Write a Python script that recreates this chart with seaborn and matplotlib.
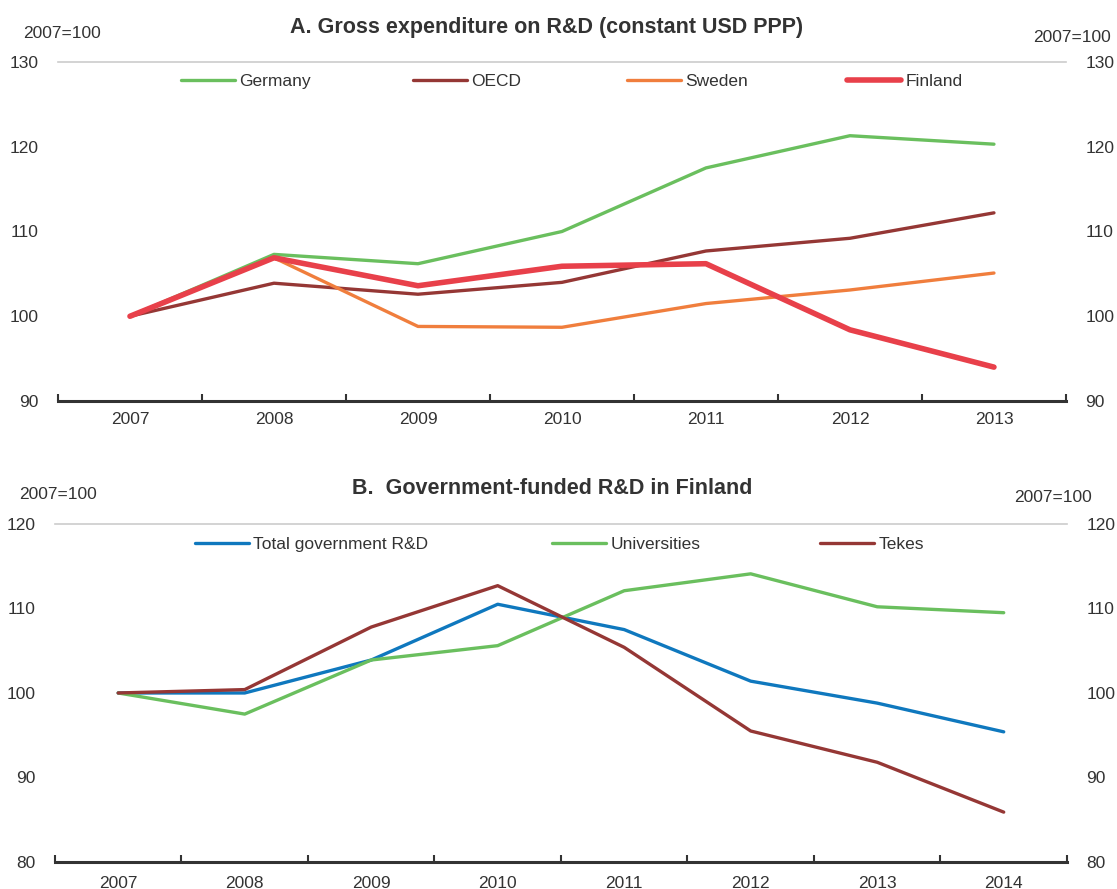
import numpy as np
import pandas as pd
import seaborn as sns
import matplotlib
matplotlib.use("Agg")
import matplotlib.pyplot as plt
from matplotlib import font_manager

# Panel A: gross expenditure on R&D, index 2007=100
years_a = ["2007", "2008", "2009", "2010", "2011", "2012", "2013"]
germany = [100.0, 107.3, 106.2, 110.0, 117.5, 121.3, 120.3]
oecd = [100.0, 103.9, 102.6, 104.0, 107.7, 109.2, 112.2]
sweden = [100.0, 106.9, 98.8, 98.7, 101.5, 103.1, 105.1]
finland = [100.0, 106.9, 103.6, 105.9, 106.2, 98.4, 94.0]

# Panel B: government-funded R&D in Finland, index 2007=100
years_b = ["2007", "2008", "2009", "2010", "2011", "2012", "2013", "2014"]
total_gov = [100.0, 100.0, 103.9, 110.5, 107.5, 101.4, 98.8, 95.4]
universities = [100.0, 97.5, 103.9, 105.6, 112.1, 114.1, 110.2, 109.5]
tekes = [100.0, 100.4, 107.8, 112.7, 105.4, 95.5, 91.8, 85.9]

sns.set_theme(style="white")
installed = {f.name for f in font_manager.fontManager.ttflist}
family = [f for f in ["Liberation Sans Narrow", "Liberation Sans", "DejaVu Sans"] if f in installed]
plt.rcParams["font.family"] = family
TXT = "#333333"
FS = 12.5

W, H = 1117, 889
fig = plt.figure(figsize=(W / 100, H / 100), dpi=100)
ax_a = fig.add_axes([0.0519, 0.5489, 0.9024, 0.3814])
ax_b = fig.add_axes([0.0492, 0.0304, 0.9060, 0.3802])


def draw_panel(ax, years, series, ylim, yticks, xpad):
    x = np.arange(len(years))
    lines = []
    for name, vals, color, lw in series:
        df = pd.DataFrame({"x": x, "v": vals})
        sns.lineplot(data=df, x="x", y="v", ax=ax, color=color, linewidth=lw,
                     solid_capstyle="round", legend=False)
        lines.append((ax.get_lines()[-1], name))
    ax.set_xlim(-0.5, len(years) - 0.5)
    ax.set_ylim(*ylim)
    ax.set_xticks(x)
    ax.set_xticklabels(years, fontsize=FS, color=TXT)
    ax.set_xticks(np.arange(-0.5, len(years)), minor=True)
    ax.tick_params(axis="x", which="major", length=0, pad=xpad)
    ax.tick_params(axis="x", which="minor", direction="in", length=5,
                   width=1.5, color="#333333", bottom=True)
    ax.set_yticks(yticks)
    ax.set_yticklabels([str(v) for v in yticks], fontsize=FS, color=TXT)
    ax.tick_params(axis="y", length=0, pad=14, labelright=True, right=False)
    ax.set_xlabel("")
    ax.set_ylabel("")
    for s in ["left", "right"]:
        ax.spines[s].set_visible(False)
    ax.spines["top"].set_color("#cccccc")
    ax.spines["top"].set_linewidth(1.2)
    ax.spines["bottom"].set_color("#333333")
    ax.spines["bottom"].set_linewidth(2.2)
    ax.grid(False)
    return lines


def place_legend(ax, entries, xs_px, y_px):
    # one legend per entry so each key sits at its own horizontal position
    for (line, name), xp in zip(entries, xs_px):
        leg = ax.legend([line], [name], loc="center left",
                        bbox_to_anchor=(xp / W, 1 - y_px / H),
                        bbox_transform=fig.transFigure, frameon=False,
                        fontsize=FS, handlelength=3.1, handletextpad=0.25,
                        borderpad=0, borderaxespad=0)
        for t in leg.get_texts():
            t.set_color(TXT)
        ax.add_artist(leg)
    # the entries are kept as artists; drop the axes' own legend slot
    ax.legend_ = None


lines_a = draw_panel(ax_a, years_a,
                     [("Germany", germany, "#6ABF5E", 2.4),
                      ("OECD", oecd, "#953735", 2.4),
                      ("Sweden", sweden, "#F07E3D", 2.4),
                      ("Finland", finland, "#E8404A", 4.0)],
                     (90, 130), [90, 100, 110, 120, 130], 8)
lines_b = draw_panel(ax_b, years_b,
                     [("Total government R&D", total_gov, "#0F78BE", 2.4),
                      ("Universities", universities, "#6ABF5E", 2.4),
                      ("Tekes", tekes, "#953735", 2.4)],
                     (80, 120), [80, 90, 100, 110, 120], 10)

place_legend(ax_a, lines_a, [181, 413, 627, 847], 81)
place_legend(ax_b, lines_b, [195, 552, 820], 544)

fig.text(547 / W, 1 - 28 / H, "A. Gross expenditure on R&D (constant USD PPP)",
         ha="center", va="center", fontsize=15.5, fontweight="bold", color=TXT)
fig.text(552 / W, 1 - 488 / H, "B.  Government-funded R&D in Finland",
         ha="center", va="center", fontsize=15.5, fontweight="bold", color=TXT)

# Index base notes above the y-axis labels
for xp, yp in [(62, 33), (1072, 37), (58, 495), (1053, 497)]:
    fig.text(xp / W, 1 - yp / H, "2007=100", ha="center", va="center",
             fontsize=FS, color=TXT)

fig.savefig("out.png", dpi=100)
